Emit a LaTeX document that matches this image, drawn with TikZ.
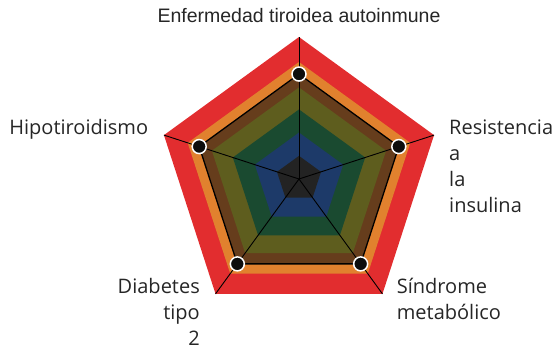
\documentclass[tikz,border=0pt]{standalone}
\usepackage{fontspec}
\setmainfont{Open Sans}
\newfontfamily\titlefont{Liberation Sans}
\definecolor{cred}{HTML}{E22D2F}
\definecolor{corange}{HTML}{E1812E}
\definecolor{cbrown}{HTML}{663D1C}
\definecolor{colive}{HTML}{5E5D1E}
\definecolor{cgreen}{HTML}{1A4A30}
\definecolor{cblue}{HTML}{1D3A69}
\definecolor{cdark}{HTML}{232323}
\tikzset{
  x=1pt,y=1pt,
  axisline/.style={draw=black,line width=0.9pt},
  dataline/.style={draw=black,line width=1.3pt,line join=miter},
  dot/.style={circle,fill=black!95,draw=white,line width=1.5pt,minimum size=14pt,inner sep=0pt},
  lbl/.style={font=\fontsize{20}{26}\selectfont,inner sep=0pt,text=black!85},
  ttl/.style={font=\titlefont\fontsize{19.5}{24}\selectfont,inner sep=0pt,text=black!85}
}
\newcommand{\pent}[2]{\fill[#2] (90:#1) -- (162:#1) -- (234:#1) -- (306:#1) -- (18:#1) -- cycle;}
\begin{document}
\begin{tikzpicture}
\useasboundingbox (-299,-169) rectangle (259,179);
\def\R{142}
\coordinate (c) at (0,0);
\pent{\R}{cred}
\pent{0.824*\R}{corange}
\pent{0.739*\R}{cbrown}
\pent{0.645*\R}{colive}
\pent{0.49*\R}{cgreen}
\pent{0.327*\R}{cblue}
\pent{0.163*\R}{cdark}
\foreach \i/\a in {1/90,2/162,3/234,4/306,5/18}{
  \coordinate (a\i) at (\a:\R);
  \coordinate (d\i) at (\a:0.739*\R);
  \draw[axisline] (c) -- (a\i);
}
\draw[dataline] (d1) -- (d2) -- (d3) -- (d4) -- (d5) -- cycle;
\foreach \i in {1,...,5}{
  \node[dot] (p\i) at (d\i) {};
}
\node[ttl,anchor=base] (t1) at (0,156.3) {Enfermedad tiroidea autoinmune};
\node[lbl,anchor=base east] (t2) at (-150.7,44.7) {Hipotiroidismo};
\node[lbl,anchor=base west,align=left] (t3) at (150,-33.7) {Resistencia\\a\\la\\insulina};
\node[lbl,anchor=base west,align=left] (t4) at (97.7,-141) {Síndrome\\metabólico};
\node[lbl,anchor=base east,align=right] (t5) at (-99,-166.5) {Diabetes\\tipo\\2};
\end{tikzpicture}
\end{document}
